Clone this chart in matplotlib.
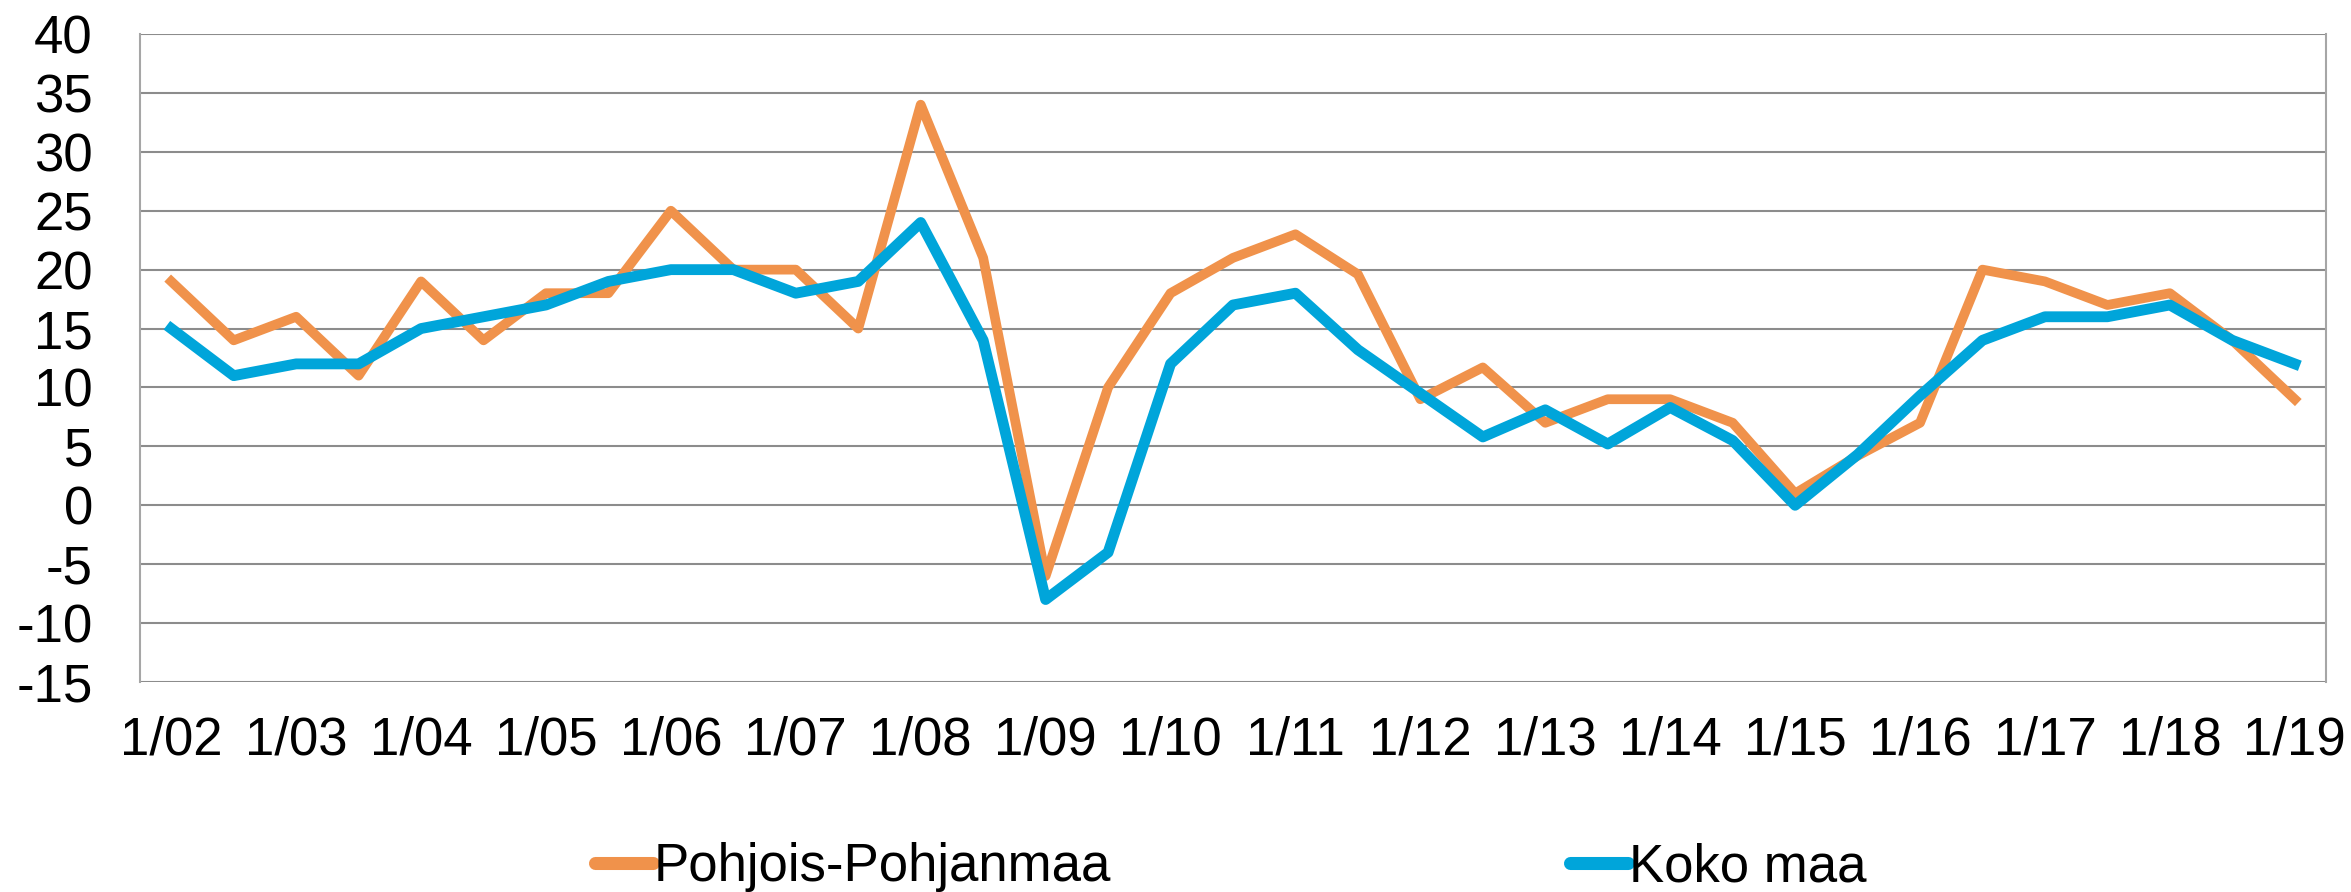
import numpy as np
import matplotlib
matplotlib.use('Agg')
import matplotlib.pyplot as plt
from matplotlib.lines import Line2D

plt.rcParams['font.family'] = ['Liberation Sans', 'DejaVu Sans']
plt.rcParams['axes.unicode_minus'] = False

# half-year steps from 1/02 to 1/19
years = ['02', '03', '04', '05', '06', '07', '08', '09', '10',
         '11', '12', '13', '14', '15', '16', '17', '18', '19']
tick_labels = ['1/' + y for y in years]

pohjois = [19, 14, 16, 11, 19, 14, 18, 18, 25, 20, 20, 15, 34, 21, -6, 10, 18, 21,
           23, 19.6, 9, 11.7, 7, 9, 9, 7, 1, 4.2, 7, 20, 19, 17, 18, 14, 9]
koko = [15, 11, 12, 12, 15, 16, 17, 19, 20, 20, 18, 19, 24, 14, -8, -4, 12, 17,
        18, 13.2, 9.5, 5.8, 8.1, 5.2, 8.3, 5.5, 0, 4.3, 9.3, 14, 16, 16, 17, 14, 12]

series_names = ['Pohjois-Pohjanmaa', 'Koko maa']
colors = ['#F0924B', '#00A5DA']

x = np.arange(len(pohjois))

fig = plt.figure(figsize=(23.51, 8.92), dpi=100)
ax = fig.add_axes([140 / 2351, 1 - 682 / 892, (2326 - 140) / 2351, (682 - 34) / 892])

ax.plot(x, pohjois, color=colors[0], lw=7, zorder=3)
ax.plot(x, koko, color=colors[1], lw=7.8, zorder=4)

ax.set_xlim(-0.5, len(x) - 0.5)
ax.set_ylim(-15, 40)
ax.set_yticks(np.arange(-15, 41, 5))
ax.set_xticks(np.arange(0, len(x), 2))
ax.set_xticklabels(tick_labels)
ax.tick_params(axis='both', length=0, labelsize=38)
ax.tick_params(axis='y', pad=34)
ax.tick_params(axis='x', pad=24)

ax.grid(axis='y', color='#8C8C8C', lw=1.5, zorder=1)
for s in ['top', 'bottom']:
    ax.spines[s].set_visible(False)
for s in ['left', 'right']:
    ax.spines[s].set_color('#A6A6A6')
    ax.spines[s].set_linewidth(1.5)

# legend, two entries placed separately as in the original
anchors = [595, 1570]
for name, col, ax_x in zip(series_names, colors, anchors):
    h = Line2D([], [], color=col, lw=9.4, solid_capstyle='round')
    fig.legend([h], [name], loc='center left', bbox_to_anchor=(ax_x / 2351, 1 - 867 / 892),
               frameon=False, fontsize=38, handlelength=1.1, handletextpad=0.02,
               borderpad=0, borderaxespad=0)

fig.savefig('out.png', dpi=100)
